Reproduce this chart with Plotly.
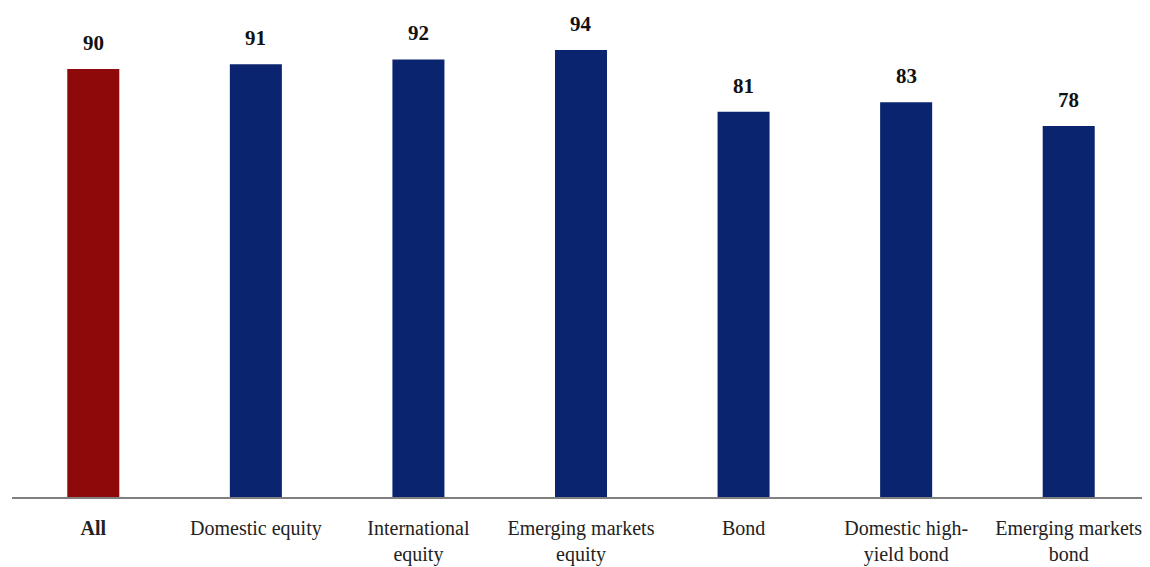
import plotly.graph_objects as go

categories = ["<b>All</b>", "Domestic equity", "International<br>equity", "Emerging markets<br>equity",
              "Bond", "Domestic high-<br>yield bond", "Emerging markets<br>bond"]
values = [90, 91, 92, 94, 81, 83, 78]
colors = ["#8E0A0A"] + ["#0B2470"] * 6

fig = go.Figure()
fig.add_trace(go.Bar(x=list(range(len(values))), y=values, marker_color=colors, width=0.32,
                     marker_line_width=0, hoverinfo="skip"))
for i, v in enumerate(values):
    fig.add_annotation(x=i, y=v, text=f"<b>{v}</b>", showarrow=False, yanchor="middle", yshift=26,
                       font=dict(family="Liberation Serif, serif", size=21, color="#111111"))

fig.update_layout(
    width=1150, height=567, margin=dict(l=4, r=8, t=2, b=78),
    plot_bgcolor="white", paper_bgcolor="white", showlegend=False,
    font=dict(family="Liberation Serif, serif", size=20, color="#222222"),
)
fig.update_xaxes(tickmode="array", tickvals=list(range(len(values))), ticktext=categories,
                 range=[-0.5, len(values) - 0.5], showline=True, linecolor="#808080", linewidth=2,
                 showgrid=False, ticks="", ticklabelstandoff=12, tickfont=dict(size=20))
fig.update_yaxes(range=[0, 102.4], visible=False, showgrid=False)
fig.write_html("out.html")
